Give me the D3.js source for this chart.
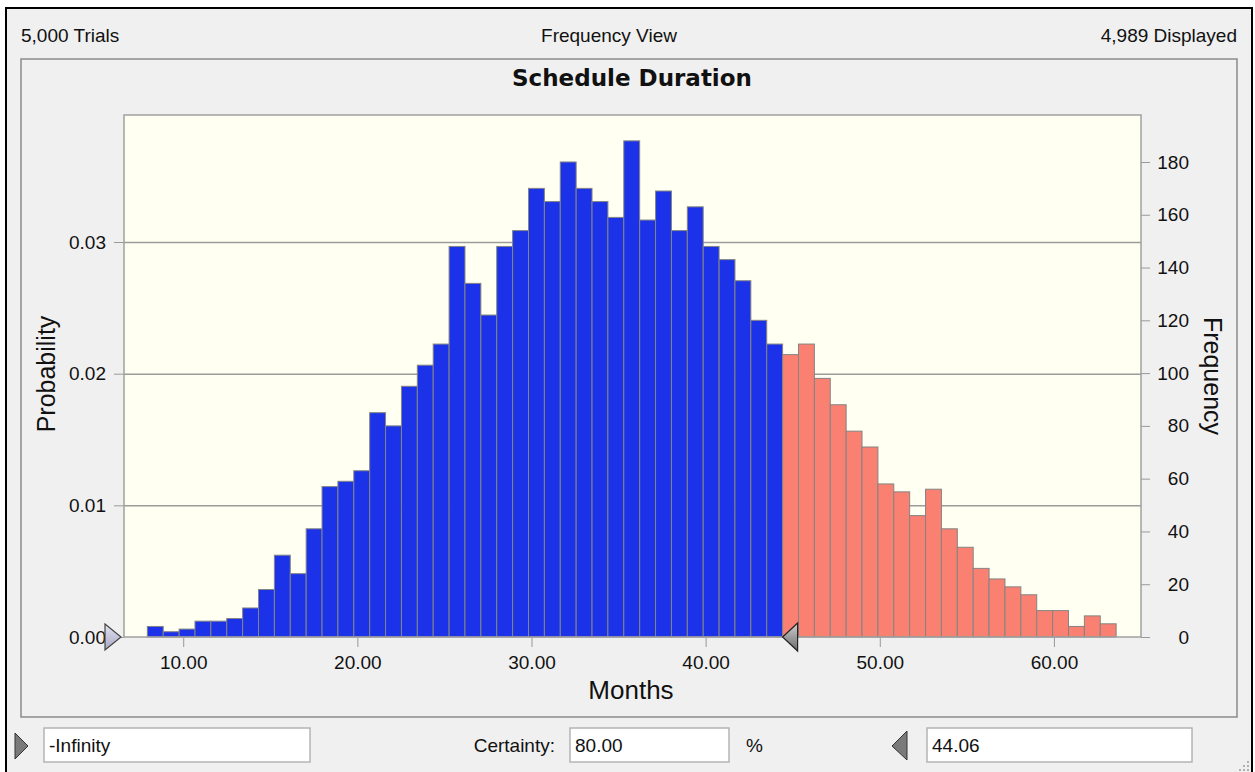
<!DOCTYPE html>
<html lang="en">
<head>
<meta charset="utf-8">
<title>Schedule Duration</title>
<script src="https://cdn.jsdelivr.net/npm/d3@7"></script>
<style>
  body { margin: 0; background: #fff; }
  svg text { font-family: "Liberation Sans", Arial, sans-serif; fill: #111; }
</style>
</head>
<body>
<script>
// frequency of each bin (5,000 trials, 4,989 displayed)
var counts = [4, 2, 3, 6, 6, 7, 11, 18, 31, 24,
              41, 57, 59, 63, 85, 80, 95, 103, 111, 148,
              134, 122, 148, 154, 170, 165, 180, 170, 165, 159,
              188, 158, 169, 154, 163, 148, 143, 135, 120, 111,
              107, 111, 98, 88, 78, 72, 58, 55, 46, 56,
              41, 34, 26, 22, 19, 16, 10, 10, 4, 8, 5];
var binStart = 7.94;
var binWidth = 0.912;
var splitIndex = 40;          // bins left of the certainty marker
var trials = 5000;
var displayed = 4989;
var certainty = "80.00";
var lowerValue = "-Infinity";
var upperValue = "44.06";
var monthTicks = [10, 20, 30, 40, 50, 60];
var probTicks = [0, 0.01, 0.02, 0.03];
var freqTicks = [0, 20, 40, 60, 80, 100, 120, 140, 160, 180];

var w = 1255, h = 772;
var plot = {left: 124, top: 115, right: 1141, bottom: 637};

var svg = d3.select("body").append("svg")
  .attr("width", w).attr("height", h);

// window frame
svg.append("rect").attr("x", 6).attr("y", 8).attr("width", 1246).attr("height", 780)
  .attr("fill", "#f0f0f0").attr("stroke", "#000").attr("stroke-width", 2);

var fmt = d3.format(",");
svg.append("text").attr("x", 21).attr("y", 42).attr("font-size", 19)
  .text(fmt(trials) + " Trials");
svg.append("text").attr("x", 609).attr("y", 42).attr("font-size", 19)
  .attr("text-anchor", "middle").text("Frequency View");
svg.append("text").attr("x", 1237).attr("y", 42).attr("font-size", 19)
  .attr("text-anchor", "end").text(fmt(displayed) + " Displayed");

// chart panel
svg.append("rect").attr("x", 21).attr("y", 59).attr("width", 1216).attr("height", 658)
  .attr("fill", "none").attr("stroke", "#8a8a8a").attr("stroke-width", 1.5);

svg.append("text").attr("x", 632).attr("y", 86)
  .attr("text-anchor", "middle")
  .style("font-family", "'DejaVu Sans', sans-serif")
  .attr("font-weight", "bold").attr("font-size", 23)
  .text("Schedule Duration");

var x = d3.scaleLinear().domain([6.6, 65]).range([plot.left, plot.right]);
var yFreq = d3.scaleLinear().domain([0, 197.8]).range([plot.bottom, plot.top]);
var yProb = d3.scaleLinear().domain([0, 197.8 / displayed]).range([plot.bottom, plot.top]);

svg.append("rect")
  .attr("x", plot.left).attr("y", plot.top)
  .attr("width", plot.right - plot.left).attr("height", plot.bottom - plot.top)
  .attr("fill", "#fffff2");

// left axis with grid lines
var leftAxis = svg.append("g")
  .attr("transform", "translate(" + plot.left + ",0)")
  .call(d3.axisLeft(yProb).tickValues(probTicks).tickFormat(d3.format(".2f"))
    .tickSize(10).tickPadding(8));
leftAxis.select(".domain").remove();
leftAxis.selectAll("line").attr("stroke", "#999");
leftAxis.selectAll("text").attr("font-size", 19).attr("font-family", null);
leftAxis.selectAll(".tick").filter(function(d) { return d > 0; })
  .append("line").attr("x2", plot.right - plot.left)
  .attr("stroke", "#9c9c9c").attr("stroke-width", 1.5);

// right axis (frequency)
var rightAxis = svg.append("g")
  .attr("transform", "translate(" + plot.right + ",0)")
  .call(d3.axisRight(yFreq).tickValues(freqTicks).tickSize(9).tickPadding(8));
rightAxis.select(".domain").remove();
rightAxis.selectAll("line").attr("stroke", "#999");
rightAxis.selectAll("text").attr("font-size", 19).attr("font-family", null)
  .attr("text-anchor", "end").attr("x", 48);

// bottom axis
var bottomAxis = svg.append("g")
  .attr("transform", "translate(0," + (plot.bottom + 1) + ")")
  .call(d3.axisBottom(x).tickValues(monthTicks).tickFormat(d3.format(".2f"))
    .tickSize(9).tickPadding(9));
bottomAxis.select(".domain").remove();
bottomAxis.selectAll("line").attr("stroke", "#999");
bottomAxis.selectAll("text").attr("font-size", 19).attr("font-family", null);

// bars
svg.append("g").selectAll("rect")
  .data(counts)
  .enter().append("rect")
  .attr("x", function(d, i) { return x(binStart + i * binWidth); })
  .attr("width", function(d, i) { return x(binStart + (i + 1) * binWidth) - x(binStart + i * binWidth); })
  .attr("y", function(d) { return yFreq(d); })
  .attr("height", function(d) { return plot.bottom - yFreq(d); })
  .attr("fill", function(d, i) { return i < splitIndex ? "#1b32e8" : "#fa8072"; })
  .attr("stroke", "#848484").attr("stroke-width", 1);

// plot border
svg.append("rect")
  .attr("x", plot.left).attr("y", plot.top)
  .attr("width", plot.right - plot.left).attr("height", plot.bottom - plot.top)
  .attr("fill", "none").attr("stroke", "#a0a0a0").attr("stroke-width", 1.5);

// axis titles
svg.append("text").attr("x", 631).attr("y", 699).attr("font-size", 26)
  .attr("text-anchor", "middle").text("Months");
svg.append("text").attr("transform", "translate(55,374) rotate(-90)")
  .attr("font-size", 25).attr("text-anchor", "middle").text("Probability");
svg.append("text").attr("transform", "translate(1204,376) rotate(90)")
  .attr("font-size", 25).attr("text-anchor", "middle").text("Frequency");

// grabbers
var gradL = svg.append("defs").append("linearGradient").attr("id", "grabL")
  .attr("x1", 0).attr("y1", 0).attr("x2", 0).attr("y2", 1);
gradL.append("stop").attr("offset", 0).attr("stop-color", "#e4e4f2");
gradL.append("stop").attr("offset", 1).attr("stop-color", "#a6a6c4");
var gradR = svg.select("defs").append("linearGradient").attr("id", "grabR")
  .attr("x1", 0).attr("y1", 0).attr("x2", 0).attr("y2", 1);
gradR.append("stop").attr("offset", 0).attr("stop-color", "#d0d0d0");
gradR.append("stop").attr("offset", 1).attr("stop-color", "#6a6a6a");

var lx = plot.left - 3, by = plot.bottom;
svg.append("path")
  .attr("d", "M" + (lx - 16) + "," + (by - 13) + "L" + lx + "," + by + "L" + (lx - 16) + "," + (by + 13) + "Z")
  .attr("fill", "url(#grabL)").attr("stroke", "#444").attr("stroke-width", 1.2);
var rx = x(binStart + splitIndex * binWidth);
svg.append("path")
  .attr("d", "M" + (rx + 15) + "," + (by - 14) + "L" + rx + "," + by + "L" + (rx + 15) + "," + (by + 14) + "Z")
  .attr("fill", "url(#grabR)").attr("stroke", "#222").attr("stroke-width", 1.2);

// controls under the chart
function box(x0, x1, label) {
  svg.append("rect").attr("x", x0).attr("y", 728).attr("width", x1 - x0).attr("height", 34)
    .attr("fill", "#fff").attr("stroke", "#b4b4b4").attr("stroke-width", 1.5);
  svg.append("text").attr("x", x0 + 5).attr("y", 752).attr("font-size", 19).text(label);
}
svg.append("path").attr("d", "M15,733L28,746L15,759Z")
  .attr("fill", "#7a7a7a").attr("stroke", "#333");
box(44, 310, lowerValue);
svg.append("text").attr("x", 555).attr("y", 752).attr("font-size", 19)
  .attr("text-anchor", "end").text("Certainty:");
box(570, 729, certainty);
svg.append("text").attr("x", 746).attr("y", 752).attr("font-size", 19).text("%");
svg.append("path").attr("d", "M907,731L892,746L907,760Z")
  .attr("fill", "#7a7a7a").attr("stroke", "#333");
box(927, 1192, upperValue);

// resize grip
var grip = [[1247, 761], [1243, 765], [1247, 765], [1239, 769], [1243, 769], [1247, 769]];
svg.append("g").selectAll("rect").data(grip).enter().append("rect")
  .attr("x", function(d) { return d[0]; }).attr("y", function(d) { return d[1]; })
  .attr("width", 2).attr("height", 2).attr("fill", "#b0b0b0");
</script>
</body>
</html>
